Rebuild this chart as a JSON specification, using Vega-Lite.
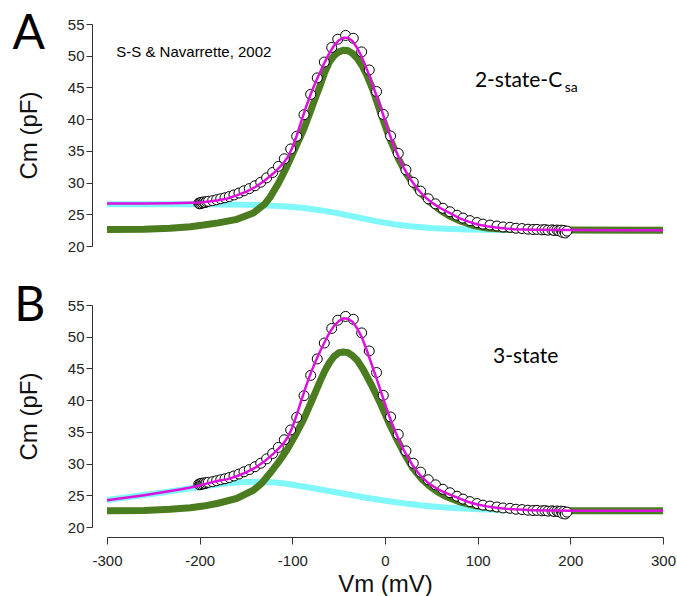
{
"$schema": "https://vega.github.io/schema/vega-lite/v6.json",
"padding": {"left": 12, "top": 11, "right": 5, "bottom": 2},
"spacing": 59,
"bounds": "flush",
"datasets": {
"curves": [
{"p":"A","s":"c","V":-300,"C":26.6},{"p":"A","s":"c","V":-250,"C":26.6},{"p":"A","s":"c","V":-200,"C":26.58},{"p":"A","s":"c","V":-175,"C":26.55},{"p":"A","s":"c","V":-150,"C":26.5},{"p":"A","s":"c","V":-130,"C":26.41},{"p":"A","s":"c","V":-110,"C":26.27},{"p":"A","s":"c","V":-90,"C":26.03},{"p":"A","s":"c","V":-70,"C":25.65},{"p":"A","s":"c","V":-50,"C":25.14},{"p":"A","s":"c","V":-30,"C":24.53},{"p":"A","s":"c","V":-10,"C":23.92},{"p":"A","s":"c","V":10,"C":23.42},{"p":"A","s":"c","V":30,"C":23.06},{"p":"A","s":"c","V":50,"C":22.82},{"p":"A","s":"c","V":70,"C":22.68},{"p":"A","s":"c","V":90,"C":22.6},{"p":"A","s":"c","V":120,"C":22.54},{"p":"A","s":"c","V":160,"C":22.51},{"p":"A","s":"c","V":200,"C":22.5},{"p":"A","s":"c","V":300,"C":22.5},
{"p":"A","s":"g","V":-300,"C":22.6},{"p":"A","s":"g","V":-260,"C":22.65},{"p":"A","s":"g","V":-232,"C":22.8},{"p":"A","s":"g","V":-210,"C":23.05},{"p":"A","s":"g","V":-196,"C":23.3},{"p":"A","s":"g","V":-180,"C":23.65},{"p":"A","s":"g","V":-160,"C":24.2},{"p":"A","s":"g","V":-142,"C":25.2},{"p":"A","s":"g","V":-130,"C":26.6},{"p":"A","s":"g","V":-124,"C":27.7},{"p":"A","s":"g","V":-115,"C":29.9},{"p":"A","s":"g","V":-106,"C":32.5},{"p":"A","s":"g","V":-97,"C":35.4},{"p":"A","s":"g","V":-88,"C":38.3},{"p":"A","s":"g","V":-81,"C":41.0},{"p":"A","s":"g","V":-75,"C":43.4},{"p":"A","s":"g","V":-70,"C":45.3},{"p":"A","s":"g","V":-65,"C":47.4},{"p":"A","s":"g","V":-60,"C":49.0},{"p":"A","s":"g","V":-55,"C":50.0},{"p":"A","s":"g","V":-50,"C":50.6},{"p":"A","s":"g","V":-45,"C":50.85},{"p":"A","s":"g","V":-40,"C":50.8},{"p":"A","s":"g","V":-35,"C":50.35},{"p":"A","s":"g","V":-30,"C":49.6},{"p":"A","s":"g","V":-25,"C":48.5},{"p":"A","s":"g","V":-20,"C":47.1},{"p":"A","s":"g","V":-13,"C":44.6},{"p":"A","s":"g","V":-5,"C":41.1},{"p":"A","s":"g","V":5,"C":37.0},{"p":"A","s":"g","V":15,"C":33.6},{"p":"A","s":"g","V":23,"C":31.4},{"p":"A","s":"g","V":35,"C":28.9},{"p":"A","s":"g","V":48,"C":27.0},{"p":"A","s":"g","V":60,"C":25.6},{"p":"A","s":"g","V":70,"C":24.7},{"p":"A","s":"g","V":80,"C":24.0},{"p":"A","s":"g","V":95,"C":23.25},{"p":"A","s":"g","V":110,"C":22.85},{"p":"A","s":"g","V":130,"C":22.65},{"p":"A","s":"g","V":160,"C":22.55},{"p":"A","s":"g","V":200,"C":22.52},{"p":"A","s":"g","V":300,"C":22.5},
{"p":"A","s":"m","V":-300,"C":26.7},{"p":"A","s":"m","V":-260,"C":26.71},{"p":"A","s":"m","V":-230,"C":26.74},{"p":"A","s":"m","V":-210,"C":26.8},{"p":"A","s":"m","V":-200,"C":26.85},{"p":"A","s":"m","V":-190,"C":27.02},{"p":"A","s":"m","V":-180,"C":27.22},{"p":"A","s":"m","V":-170,"C":27.5},{"p":"A","s":"m","V":-160,"C":27.98},{"p":"A","s":"m","V":-150,"C":28.55},{"p":"A","s":"m","V":-140,"C":29.3},{"p":"A","s":"m","V":-130,"C":30.3},{"p":"A","s":"m","V":-120,"C":31.5},{"p":"A","s":"m","V":-110,"C":33.0},{"p":"A","s":"m","V":-105,"C":34.0},{"p":"A","s":"m","V":-100,"C":35.5},{"p":"A","s":"m","V":-95,"C":37.5},{"p":"A","s":"m","V":-90,"C":39.8},{"p":"A","s":"m","V":-85,"C":42.0},{"p":"A","s":"m","V":-80,"C":44.0},{"p":"A","s":"m","V":-75,"C":45.8},{"p":"A","s":"m","V":-70,"C":47.4},{"p":"A","s":"m","V":-65,"C":49.0},{"p":"A","s":"m","V":-60,"C":50.4},{"p":"A","s":"m","V":-55,"C":51.6},{"p":"A","s":"m","V":-50,"C":52.4},{"p":"A","s":"m","V":-45,"C":52.85},{"p":"A","s":"m","V":-40,"C":52.85},{"p":"A","s":"m","V":-35,"C":52.3},{"p":"A","s":"m","V":-30,"C":51.2},{"p":"A","s":"m","V":-25,"C":49.8},{"p":"A","s":"m","V":-20,"C":48.0},{"p":"A","s":"m","V":-15,"C":46.1},{"p":"A","s":"m","V":-10,"C":44.0},{"p":"A","s":"m","V":-5,"C":42.0},{"p":"A","s":"m","V":0,"C":39.8},{"p":"A","s":"m","V":5,"C":37.6},{"p":"A","s":"m","V":10,"C":35.6},{"p":"A","s":"m","V":15,"C":33.9},{"p":"A","s":"m","V":20,"C":32.4},{"p":"A","s":"m","V":25,"C":31.1},{"p":"A","s":"m","V":30,"C":30.0},{"p":"A","s":"m","V":35,"C":29.0},{"p":"A","s":"m","V":40,"C":28.2},{"p":"A","s":"m","V":45,"C":27.5},{"p":"A","s":"m","V":50,"C":26.9},{"p":"A","s":"m","V":55,"C":26.4},{"p":"A","s":"m","V":60,"C":25.95},{"p":"A","s":"m","V":70,"C":25.2},{"p":"A","s":"m","V":80,"C":24.4},{"p":"A","s":"m","V":90,"C":23.85},{"p":"A","s":"m","V":100,"C":23.4},{"p":"A","s":"m","V":110,"C":23.1},{"p":"A","s":"m","V":120,"C":22.9},{"p":"A","s":"m","V":130,"C":22.75},{"p":"A","s":"m","V":140,"C":22.65},{"p":"A","s":"m","V":160,"C":22.57},{"p":"A","s":"m","V":200,"C":22.52},{"p":"A","s":"m","V":250,"C":22.5},{"p":"A","s":"m","V":300,"C":22.5},
{"p":"B","s":"c","V":-300,"C":24.25},{"p":"B","s":"c","V":-280,"C":24.65},{"p":"B","s":"c","V":-260,"C":25.05},{"p":"B","s":"c","V":-240,"C":25.45},{"p":"B","s":"c","V":-220,"C":25.87},{"p":"B","s":"c","V":-200,"C":26.3},{"p":"B","s":"c","V":-185,"C":26.6},{"p":"B","s":"c","V":-170,"C":26.88},{"p":"B","s":"c","V":-155,"C":27.07},{"p":"B","s":"c","V":-140,"C":27.13},{"p":"B","s":"c","V":-125,"C":27.1},{"p":"B","s":"c","V":-110,"C":26.9},{"p":"B","s":"c","V":-95,"C":26.55},{"p":"B","s":"c","V":-80,"C":26.2},{"p":"B","s":"c","V":-65,"C":25.8},{"p":"B","s":"c","V":-50,"C":25.4},{"p":"B","s":"c","V":-35,"C":25.0},{"p":"B","s":"c","V":-20,"C":24.6},{"p":"B","s":"c","V":-5,"C":24.25},{"p":"B","s":"c","V":10,"C":23.95},{"p":"B","s":"c","V":25,"C":23.65},{"p":"B","s":"c","V":40,"C":23.4},{"p":"B","s":"c","V":55,"C":23.2},{"p":"B","s":"c","V":70,"C":23.02},{"p":"B","s":"c","V":85,"C":22.9},{"p":"B","s":"c","V":100,"C":22.8},{"p":"B","s":"c","V":120,"C":22.7},{"p":"B","s":"c","V":140,"C":22.63},{"p":"B","s":"c","V":160,"C":22.58},{"p":"B","s":"c","V":190,"C":22.54},{"p":"B","s":"c","V":220,"C":22.52},{"p":"B","s":"c","V":260,"C":22.5},{"p":"B","s":"c","V":300,"C":22.5},
{"p":"B","s":"g","V":-300,"C":22.55},{"p":"B","s":"g","V":-260,"C":22.6},{"p":"B","s":"g","V":-232,"C":22.8},{"p":"B","s":"g","V":-210,"C":23.05},{"p":"B","s":"g","V":-196,"C":23.3},{"p":"B","s":"g","V":-180,"C":23.75},{"p":"B","s":"g","V":-160,"C":24.5},{"p":"B","s":"g","V":-142,"C":25.8},{"p":"B","s":"g","V":-133,"C":26.9},{"p":"B","s":"g","V":-124,"C":28.5},{"p":"B","s":"g","V":-115,"C":30.2},{"p":"B","s":"g","V":-106,"C":32.1},{"p":"B","s":"g","V":-97,"C":34.4},{"p":"B","s":"g","V":-88,"C":36.9},{"p":"B","s":"g","V":-79,"C":39.9},{"p":"B","s":"g","V":-70,"C":43.0},{"p":"B","s":"g","V":-65,"C":44.6},{"p":"B","s":"g","V":-60,"C":45.9},{"p":"B","s":"g","V":-55,"C":46.9},{"p":"B","s":"g","V":-50,"C":47.45},{"p":"B","s":"g","V":-45,"C":47.6},{"p":"B","s":"g","V":-40,"C":47.5},{"p":"B","s":"g","V":-35,"C":47.0},{"p":"B","s":"g","V":-30,"C":46.3},{"p":"B","s":"g","V":-23,"C":44.7},{"p":"B","s":"g","V":-15,"C":42.5},{"p":"B","s":"g","V":-5,"C":39.5},{"p":"B","s":"g","V":5,"C":36.2},{"p":"B","s":"g","V":13,"C":33.8},{"p":"B","s":"g","V":20,"C":31.8},{"p":"B","s":"g","V":30,"C":29.3},{"p":"B","s":"g","V":40,"C":27.5},{"p":"B","s":"g","V":48,"C":26.45},{"p":"B","s":"g","V":57,"C":25.5},{"p":"B","s":"g","V":66,"C":24.8},{"p":"B","s":"g","V":80,"C":24.0},{"p":"B","s":"g","V":90,"C":23.6},{"p":"B","s":"g","V":100,"C":23.3},{"p":"B","s":"g","V":120,"C":22.9},{"p":"B","s":"g","V":150,"C":22.65},{"p":"B","s":"g","V":200,"C":22.55},{"p":"B","s":"g","V":300,"C":22.55},
{"p":"B","s":"m","V":-300,"C":24.2},{"p":"B","s":"m","V":-280,"C":24.6},{"p":"B","s":"m","V":-260,"C":25.02},{"p":"B","s":"m","V":-240,"C":25.47},{"p":"B","s":"m","V":-220,"C":25.95},{"p":"B","s":"m","V":-210,"C":26.22},{"p":"B","s":"m","V":-200,"C":26.55},{"p":"B","s":"m","V":-190,"C":26.95},{"p":"B","s":"m","V":-180,"C":27.28},{"p":"B","s":"m","V":-170,"C":27.55},{"p":"B","s":"m","V":-160,"C":28.0},{"p":"B","s":"m","V":-150,"C":28.6},{"p":"B","s":"m","V":-140,"C":29.35},{"p":"B","s":"m","V":-130,"C":30.35},{"p":"B","s":"m","V":-120,"C":31.6},{"p":"B","s":"m","V":-110,"C":33.1},{"p":"B","s":"m","V":-105,"C":34.15},{"p":"B","s":"m","V":-100,"C":35.7},{"p":"B","s":"m","V":-95,"C":37.8},{"p":"B","s":"m","V":-90,"C":40.1},{"p":"B","s":"m","V":-85,"C":42.3},{"p":"B","s":"m","V":-80,"C":44.3},{"p":"B","s":"m","V":-75,"C":46.1},{"p":"B","s":"m","V":-70,"C":47.7},{"p":"B","s":"m","V":-65,"C":49.2},{"p":"B","s":"m","V":-60,"C":50.6},{"p":"B","s":"m","V":-55,"C":51.7},{"p":"B","s":"m","V":-50,"C":52.45},{"p":"B","s":"m","V":-45,"C":52.9},{"p":"B","s":"m","V":-40,"C":52.85},{"p":"B","s":"m","V":-35,"C":52.35},{"p":"B","s":"m","V":-30,"C":51.3},{"p":"B","s":"m","V":-25,"C":49.9},{"p":"B","s":"m","V":-20,"C":48.0},{"p":"B","s":"m","V":-15,"C":45.9},{"p":"B","s":"m","V":-10,"C":43.8},{"p":"B","s":"m","V":-5,"C":41.6},{"p":"B","s":"m","V":0,"C":39.4},{"p":"B","s":"m","V":5,"C":37.3},{"p":"B","s":"m","V":10,"C":35.4},{"p":"B","s":"m","V":15,"C":33.7},{"p":"B","s":"m","V":20,"C":32.2},{"p":"B","s":"m","V":25,"C":30.9},{"p":"B","s":"m","V":30,"C":29.7},{"p":"B","s":"m","V":35,"C":28.7},{"p":"B","s":"m","V":40,"C":27.85},{"p":"B","s":"m","V":45,"C":27.15},{"p":"B","s":"m","V":50,"C":26.6},{"p":"B","s":"m","V":55,"C":26.15},{"p":"B","s":"m","V":60,"C":25.75},{"p":"B","s":"m","V":70,"C":25.1},{"p":"B","s":"m","V":80,"C":24.5},{"p":"B","s":"m","V":90,"C":23.95},{"p":"B","s":"m","V":100,"C":23.55},{"p":"B","s":"m","V":110,"C":23.25},{"p":"B","s":"m","V":120,"C":23.05},{"p":"B","s":"m","V":130,"C":22.88},{"p":"B","s":"m","V":140,"C":22.78},{"p":"B","s":"m","V":160,"C":22.66},{"p":"B","s":"m","V":180,"C":22.6},{"p":"B","s":"m","V":200,"C":22.57},{"p":"B","s":"m","V":250,"C":22.55},{"p":"B","s":"m","V":300,"C":22.55}
],
"pts": [
{"V":-201,"C":26.75},{"V":-200,"C":26.65},{"V":-199.3,"C":26.85},{"V":-198.5,"C":26.7},{"V":-197.6,"C":26.9},{"V":-196.5,"C":26.8},{"V":-195.3,"C":26.95},{"V":-194,"C":26.85},{"V":-192.5,"C":27.0},{"V":-190.6,"C":27.05},{"V":-186,"C":27.15},{"V":-181.7,"C":27.3},{"V":-177.3,"C":27.45},{"V":-172.7,"C":27.6},{"V":-168,"C":27.8},{"V":-163,"C":28.05},{"V":-157.6,"C":28.35},{"V":-152.2,"C":28.7},{"V":-146.4,"C":29.05},{"V":-140.3,"C":29.5},{"V":-134.1,"C":30.05},{"V":-127.7,"C":30.75},{"V":-121.2,"C":31.6},{"V":-115.1,"C":32.55},{"V":-108.7,"C":33.75},{"V":-101.8,"C":35.3},{"V":-95.3,"C":37.3},{"V":-87.4,"C":40.7},{"V":-80.2,"C":43.9},{"V":-73.1,"C":46.5},{"V":-65.5,"C":49.0},{"V":-57.5,"C":51.3},{"V":-51,"C":52.6},{"V":-42.5,"C":53.2},{"V":-34.2,"C":52.75},{"V":-25.2,"C":50.6},{"V":-17,"C":47.75},{"V":-9.1,"C":44.35},{"V":-1.9,"C":40.75},{"V":6,"C":37.35},{"V":14.3,"C":34.6},{"V":22.6,"C":32.0},{"V":30.5,"C":30.05},{"V":38.4,"C":28.65},{"V":46.7,"C":27.45},{"V":54.5,"C":26.65},{"V":62.5,"C":25.95},{"V":70.1,"C":25.4},{"V":77.7,"C":24.85},{"V":84.2,"C":24.4},{"V":91.7,"C":24.0},{"V":99.3,"C":23.7},{"V":105.7,"C":23.45},{"V":113.3,"C":23.3},{"V":120.8,"C":23.15},{"V":127.3,"C":23.0},{"V":134.9,"C":22.95},{"V":141.3,"C":22.8},{"V":147.8,"C":22.75},{"V":154.3,"C":22.65},{"V":159.7,"C":22.6},{"V":164,"C":22.62},{"V":169.4,"C":22.55},{"V":172.6,"C":22.58},{"V":175.9,"C":22.5},{"V":180.2,"C":22.55},{"V":182.4,"C":22.45},{"V":185.6,"C":22.52},{"V":187.7,"C":22.4},{"V":190,"C":22.5},{"V":191.5,"C":22.15},{"V":193,"C":22.45},{"V":194.5,"C":22.05},{"V":196.4,"C":22.35}
],
"labels": [
{"p":"A","k":"big","t":"A","V":-402,"C":51.0},
{"p":"B","k":"big","t":"B","V":-400,"C":52.5},
{"p":"A","k":"ref","t":"S-S & Navarrette, 2002","V":-290,"C":49.8},
{"p":"A","k":"model","t":"2-state-C","V":97,"C":45.07},
{"p":"A","k":"sub","t":"sa","V":194,"C":44.25},
{"p":"B","k":"model","t":"3-state","V":116.5,"C":45.8}
]
},
"vconcat": [
{
"width": 556, "height": 222,
"encoding": {
"x": {"field":"V","type":"quantitative","scale":{"domain":[-300,300],"nice":false,"zero":false},"axis":null},
"y": {"field":"C","type":"quantitative","scale":{"domain":[20,55],"nice":false,"zero":false},"axis":{"values":[20,25,30,35,40,45,50,55],"title":"Cm (pF)","offset":15,"tickSize":6,"labelPadding":2,"titlePadding":26}}
},
"layer": [
{"data":{"name":"curves"},"transform":[{"filter":"datum.p=='A' && datum.s=='c'"}],"mark":{"type":"line","color":"#80f7f8","strokeWidth":6,"clip":false}},
{"data":{"name":"curves"},"transform":[{"filter":"datum.p=='A' && datum.s=='g'"}],"mark":{"type":"line","color":"#4b7c1f","strokeWidth":7,"clip":false}},
{"data":{"name":"pts"},"mark":{"type":"point","shape":"circle","filled":true,"fill":"#ffffff","stroke":"#000000","strokeWidth":1,"size":100,"opacity":1}},
{"data":{"name":"curves"},"transform":[{"filter":"datum.p=='A' && datum.s=='m'"}],"mark":{"type":"line","color":"#dd11dd","strokeWidth":2.5,"clip":false}},
{"data":{"name":"labels"},"transform":[{"filter":"datum.p=='A' && datum.k=='big'"}],"mark":{"type":"text","font":"Lato","fontSize":48,"align":"left","baseline":"alphabetic","color":"#000000"},"encoding":{"text":{"field":"t"}}},
{"data":{"name":"labels"},"transform":[{"filter":"datum.p=='A' && datum.k=='ref'"}],"mark":{"type":"text","font":"Liberation Sans","fontSize":15,"align":"left","baseline":"alphabetic","color":"#000000"},"encoding":{"text":{"field":"t"}}},
{"data":{"name":"labels"},"transform":[{"filter":"datum.p=='A' && datum.k=='model'"}],"mark":{"type":"text","font":"Lato","fontSize":21,"align":"left","baseline":"alphabetic","color":"#000000"},"encoding":{"text":{"field":"t"}}},
{"data":{"name":"labels"},"transform":[{"filter":"datum.p=='A' && datum.k=='sub'"}],"mark":{"type":"text","font":"Lato","fontSize":14,"align":"left","baseline":"alphabetic","color":"#000000"},"encoding":{"text":{"field":"t"}}}
]
},
{
"width": 556, "height": 222,
"encoding": {
"x": {"field":"V","type":"quantitative","scale":{"domain":[-300,300],"nice":false,"zero":false},"axis":{"values":[-300,-200,-100,0,100,200,300],"title":"Vm (mV)","offset":10,"tickSize":7,"labelPadding":9,"titlePadding":4,"labelFlush":false,"labelExpr":"'' + datum.value"}},
"y": {"field":"C","type":"quantitative","scale":{"domain":[20,55],"nice":false,"zero":false},"axis":{"values":[20,25,30,35,40,45,50,55],"title":"Cm (pF)","offset":15,"tickSize":6,"labelPadding":2,"titlePadding":26}}
},
"layer": [
{"data":{"name":"curves"},"transform":[{"filter":"datum.p=='B' && datum.s=='c'"}],"mark":{"type":"line","color":"#80f7f8","strokeWidth":6,"clip":false}},
{"data":{"name":"curves"},"transform":[{"filter":"datum.p=='B' && datum.s=='g'"}],"mark":{"type":"line","color":"#4b7c1f","strokeWidth":7,"clip":false}},
{"data":{"name":"pts"},"mark":{"type":"point","shape":"circle","filled":true,"fill":"#ffffff","stroke":"#000000","strokeWidth":1,"size":100,"opacity":1}},
{"data":{"name":"curves"},"transform":[{"filter":"datum.p=='B' && datum.s=='m'"}],"mark":{"type":"line","color":"#dd11dd","strokeWidth":2.5,"clip":false}},
{"data":{"name":"labels"},"transform":[{"filter":"datum.p=='B' && datum.k=='big'"}],"mark":{"type":"text","font":"Lato","fontSize":48,"align":"left","baseline":"alphabetic","color":"#000000"},"encoding":{"text":{"field":"t"}}},
{"data":{"name":"labels"},"transform":[{"filter":"datum.p=='B' && datum.k=='model'"}],"mark":{"type":"text","font":"Lato","fontSize":21,"align":"left","baseline":"alphabetic","color":"#000000"},"encoding":{"text":{"field":"t"}}}
]
}
],
"config": {
"view": {"stroke": null},
"font": "Liberation Sans",
"axis": {"grid": false, "labelFont": "Liberation Sans", "labelFontSize": 15, "labelColor": "#222222", "titleFont": "Liberation Sans", "titleFontSize": 24, "titleFontWeight": "normal", "titleColor": "#111111", "domainColor": "#333333", "tickColor": "#333333", "domainWidth": 1, "tickWidth": 1}
}
}
